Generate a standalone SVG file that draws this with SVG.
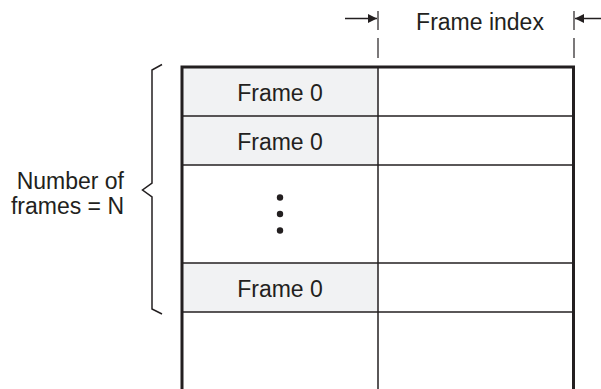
<svg xmlns="http://www.w3.org/2000/svg" width="601" height="389" viewBox="0 0 601 389">
<style>
text{font-family:"Liberation Sans",Arial,sans-serif;font-size:23px;fill:#231f20}
.c{text-anchor:middle}
.r{text-anchor:end}
.cell{fill:#f1f2f3;stroke:none}
.thin{stroke:#231f20;stroke-width:1.5;fill:none}
.thick{stroke:#231f20;stroke-width:3;fill:none}
.dash{stroke:#231f20;stroke-width:1.2;fill:none}
</style>
<defs>
<marker id="ah" viewBox="0 0 10 10" refX="10" refY="5" markerWidth="11" markerHeight="9" markerUnits="userSpaceOnUse" orient="auto">
<path d="M0,0 L10,5 L0,10 z" fill="#231f20"/>
</marker>
</defs>
<rect width="601" height="389" fill="#fff"/>
<g id="table">
<rect class="cell" x="182" y="67" width="196" height="49"/>
<rect class="cell" x="182" y="116" width="196" height="49"/>
<rect class="cell" x="182" y="263" width="196" height="49"/>
<line class="thin" x1="182" y1="116" x2="574" y2="116"/>
<line class="thin" x1="182" y1="165" x2="574" y2="165"/>
<line class="thin" x1="182" y1="263" x2="574" y2="263"/>
<line class="thin" x1="182" y1="312" x2="574" y2="312"/>
<line class="thin" x1="378" y1="67" x2="378" y2="389" stroke-width="1.2"/>
<path class="thick" d="M182,389 V67 H573.5 V389"/>
</g>
<g id="row1"><text class="c" x="280" y="101">Frame 0</text></g>
<g id="row2"><text class="c" x="280" y="150">Frame 0</text></g>
<g id="dots">
<circle cx="280" cy="197.5" r="3.2" fill="#231f20"/>
<circle cx="280" cy="214" r="3.2" fill="#231f20"/>
<circle cx="280" cy="230.5" r="3.2" fill="#231f20"/>
</g>
<g id="rowN"><text class="c" x="280" y="297">Frame 0</text></g>
<g id="frame-index-label"><text class="c" x="480" y="30">Frame index</text></g>
<g id="count-label">
<text class="r" x="124" y="189">Number of</text>
<text class="r" x="124" y="214">frames = N</text>
</g>
<g id="connectors">
<line class="dash" x1="378" y1="11" x2="378" y2="30"/>
<line class="dash" x1="378" y1="38" x2="378" y2="58"/>
<line class="dash" x1="574" y1="11" x2="574" y2="30"/>
<line class="dash" x1="574" y1="38" x2="574" y2="58"/>
<line class="thin" x1="345" y1="18.5" x2="377" y2="18.5" marker-end="url(#ah)"/>
<line class="thin" x1="601" y1="18.5" x2="575" y2="18.5" marker-end="url(#ah)"/>
<path class="thin" d="M162,64.5 L152,70 V183 L142.5,190 L152,197 V309 L162,314"/>
</g>
</svg>
